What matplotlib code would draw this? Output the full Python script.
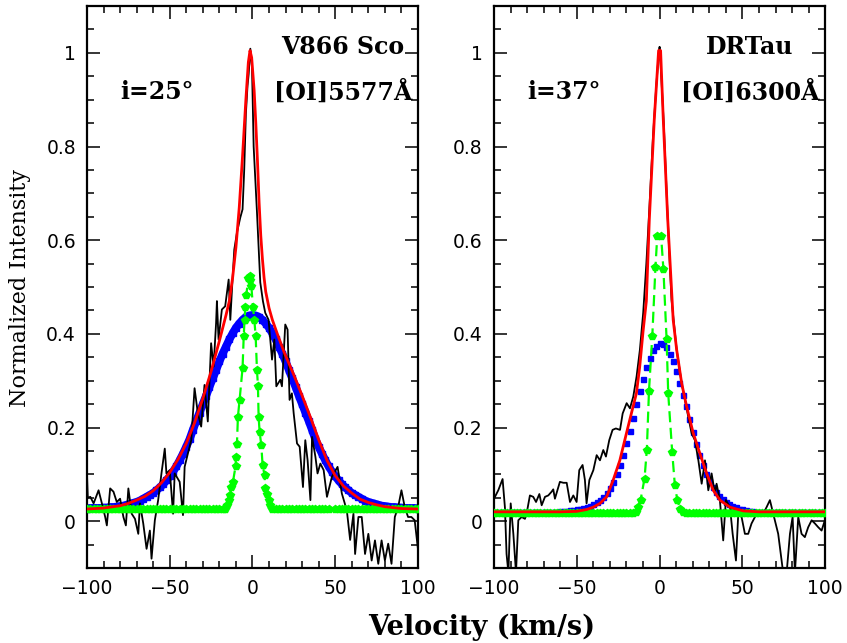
import matplotlib
matplotlib.use("Agg")
import matplotlib.pyplot as plt
from matplotlib.ticker import MultipleLocator, FuncFormatter

# ---------------- data: left panel (V866 Sco, [OI]5577) ----------------
vel_grid = [-100, -98, -96, -94, -92, -90, -88, -86, -84, -82, -80, -78, -76, -74, -72,
            -70, -68, -66, -64, -62, -60, -58, -56, -54, -52, -50, -48, -46, -44, -42,
            -40, -38, -36, -34, -32, -30, -28, -26, -24, -22, -20, -18, -16, -14, -12,
            -10, -8, -6, -4, -2, 0, 2, 4, 6, 8, 10, 12, 14, 16, 18, 20, 22, 24, 26, 28,
            30, 32, 34, 36, 38, 40, 42, 44, 46, 48, 50, 52, 54, 56, 58, 60, 62, 64, 66,
            68, 70, 72, 74, 76, 78, 80, 82, 84, 86, 88, 90, 92, 94, 96, 98, 100]

blue_left = [0.027, 0.028, 0.028, 0.028, 0.028, 0.029, 0.029, 0.030, 0.030, 0.031, 0.032,
             0.033, 0.035, 0.037, 0.039, 0.041, 0.044, 0.048, 0.052, 0.056, 0.060, 0.066,
             0.072, 0.079, 0.087, 0.096, 0.106, 0.117, 0.130, 0.144, 0.159, 0.175, 0.195,
             0.214, 0.232, 0.250, 0.268, 0.287, 0.305, 0.323, 0.341, 0.358, 0.373, 0.388,
             0.401, 0.413, 0.422, 0.430, 0.436, 0.439, 0.440, 0.439, 0.436, 0.430, 0.422,
             0.413, 0.401, 0.388, 0.373, 0.358, 0.341, 0.323, 0.305, 0.287, 0.268, 0.250,
             0.232, 0.214, 0.195, 0.175, 0.159, 0.144, 0.130, 0.117, 0.106, 0.096, 0.087,
             0.079, 0.072, 0.066, 0.060, 0.056, 0.052, 0.048, 0.044, 0.041, 0.039, 0.037,
             0.035, 0.033, 0.032, 0.031, 0.030, 0.030, 0.029, 0.029, 0.028, 0.028, 0.028,
             0.028, 0.027]

red_left_v = [-100, -90, -80, -75, -70, -65, -60, -55, -50, -45, -40, -35, -30, -25, -20,
              -16, -14, -12, -10, -8, -6, -4, -2.5, -1.5, -0.5, 1, 2, 3, 4, 5, 6, 7, 8, 10,
              12, 15, 19, 25, 30, 35, 40, 45, 50, 55, 60, 65, 70, 75, 80, 90, 100]
red_left_i = [0.026, 0.028, 0.033, 0.038, 0.045, 0.053, 0.065, 0.082, 0.104, 0.132, 0.166,
              0.21, 0.262, 0.32, 0.385, 0.44, 0.47, 0.52, 0.585, 0.67, 0.78, 0.90, 0.98,
              1.005, 0.99, 0.92, 0.85, 0.77, 0.68, 0.61, 0.56, 0.52, 0.49, 0.455, 0.43,
              0.40, 0.362, 0.312, 0.268, 0.222, 0.174, 0.13, 0.097, 0.075, 0.06, 0.047, 0.04,
              0.035, 0.031, 0.027, 0.026]

green_left_v = [-100, -98, -96, -94, -92, -90, -88, -86, -84, -82, -80, -78, -76, -74, -72,
                -70, -68, -66, -64, -62, -60, -58, -56, -54, -52, -50, -48, -46, -44, -42,
                -40, -38, -36, -34, -32, -30, -28, -26, -24, -22, -20, -18,
                -16.5, -15.5, -14.4, -13.4, -12.8, -11.8, -10.2, -10.0, -9.4, -8.8, -7.8,
                -6.0, -5.3, -4.8, -4.3, -3.7, -2.5, -1.8, -1.3, -0.7, 0.3, 1.1, 1.9, 2.7,
                3.3, 3.7, 4.3, 5.3, 6.1, 7.3, 7.7, 8.8, 9.7, 10.5, 12,
                14, 16, 18, 20, 22, 24, 26, 28, 30, 32, 34, 36, 38, 40, 42, 44, 46, 50,
                52, 54, 56, 58, 60, 62, 64, 66, 68, 70, 72, 74, 76, 78, 80, 82, 84, 86, 88,
                90, 92, 94, 96, 98, 100]
green_left_i = [0.025, 0.025, 0.025, 0.025, 0.025, 0.025, 0.025, 0.025, 0.025, 0.025, 0.025,
                0.025, 0.025, 0.025, 0.025, 0.025, 0.025, 0.025, 0.025, 0.025, 0.025, 0.025,
                0.025, 0.025, 0.025, 0.025, 0.025, 0.025, 0.025, 0.025, 0.025, 0.025, 0.025,
                0.025, 0.025, 0.025, 0.025, 0.025, 0.025, 0.025, 0.025, 0.025,
                0.027, 0.035, 0.045, 0.057, 0.073, 0.084, 0.118, 0.138, 0.165, 0.223, 0.259,
                0.327, 0.395, 0.43, 0.457, 0.484, 0.52, 0.523, 0.516, 0.502, 0.457, 0.43,
                0.396, 0.323, 0.289, 0.223, 0.191, 0.163, 0.12, 0.098, 0.07, 0.059, 0.045,
                0.035, 0.027,
                0.025, 0.025, 0.025, 0.025, 0.025, 0.025, 0.025, 0.025, 0.025, 0.025, 0.025,
                0.025, 0.025, 0.025, 0.025, 0.025, 0.025, 0.025, 0.025, 0.025, 0.025, 0.025,
                0.025, 0.025, 0.025, 0.025, 0.025, 0.025, 0.025, 0.025, 0.025, 0.025, 0.025,
                0.025, 0.025, 0.025, 0.025, 0.025, 0.025, 0.025, 0.025, 0.025, 0.025]

obs_left_v = [-100, -99.5, -98, -96, -93, -91, -89, -88, -86, -84, -82, -80, -78, -76.5,
              -75, -73, -71, -69, -68, -66, -64, -62, -61, -59, -57, -55, -53, -52, -50,
              -48, -47, -44, -42, -41, -39, -37, -35, -33, -31, -29, -27, -25, -23.5, -22,
              -21.5, -20.5, -18.5, -16.5, -14.4, -13.4, -12, -11, -9.4, -7.4, -6, -5, -4,
              -3, -2.3, -1.3, -0.3, 0.7, 2.7, 4.7, 6.3, 7.7, 9.7, 11.8, 13.2, 14.4, 16.8,
              17.8, 19.8, 21.2, 22.4, 23.8, 24.9, 26.9, 28.5, 30.5, 31.9, 33.3, 35, 36, 38,
              39.3, 41, 43, 45, 48, 51.4, 54, 57, 59, 61, 62, 64, 66, 68, 70, 72, 74, 76,
              78, 80, 82, 84, 86, 88, 90, 92, 94, 96, 98, 100]
obs_left_i = [0.10, 0.05, 0.052, 0.038, 0.066, 0.038, 0.009, -0.009, 0.07, 0.063, 0.041,
              0.048, 0.009, -0.009, 0.07, 0.016, 0.005, -0.027, 0.038, -0.005, -0.059,
              -0.02, -0.08, 0.002, 0.045, 0.102, 0.155, 0.102, 0.109, 0.016, 0.102, 0.084,
              0.013, 0.116, 0.145, 0.173, 0.284, 0.23, 0.202, 0.291, 0.213, 0.38, 0.33,
              0.423, 0.47, 0.388, 0.452, 0.459, 0.516, 0.43, 0.52, 0.58, 0.616, 0.648,
              0.666, 0.75, 0.87, 0.93, 0.955, 1.009, 0.97, 0.80, 0.66, 0.51, 0.47, 0.445,
              0.43, 0.345, 0.388, 0.288, 0.302, 0.288, 0.42, 0.409, 0.259, 0.273, 0.23,
              0.166, 0.159, 0.073, 0.173, 0.13, 0.045, 0.18, 0.138, 0.102, 0.123, 0.109,
              0.052, 0.095, 0.116, 0.059, 0.023, -0.04, 0.016, -0.07, 0.009, 0.009, -0.07,
              -0.027, -0.084, -0.041, -0.091, -0.041, -0.084, -0.048, -0.091, 0.009, 0.03,
              0.066, 0.03, 0.009, 0.009, 0.002, -0.06]

# ---------------- data: right panel (DR Tau, [OI]6300) ----------------
blue_right = [0.020, 0.020, 0.020, 0.020, 0.020, 0.020, 0.020, 0.020, 0.020, 0.020, 0.020,
              0.020, 0.020, 0.020, 0.020, 0.020, 0.020, 0.020, 0.020, 0.020, 0.021, 0.021,
              0.022, 0.023, 0.024, 0.025, 0.026, 0.028, 0.030, 0.033, 0.037, 0.041, 0.046,
              0.052, 0.060, 0.070, 0.083, 0.100, 0.120, 0.142, 0.167, 0.193, 0.221, 0.250,
              0.278, 0.304, 0.329, 0.349, 0.365, 0.375, 0.380, 0.378, 0.371, 0.358, 0.341,
              0.320, 0.296, 0.270, 0.245, 0.218, 0.190, 0.165, 0.142, 0.120, 0.100, 0.085,
              0.072, 0.062, 0.054, 0.047, 0.041, 0.037, 0.033, 0.030, 0.027, 0.025, 0.024,
              0.022, 0.021, 0.020, 0.020, 0.020, 0.020, 0.020, 0.020, 0.020, 0.020, 0.020,
              0.020, 0.020, 0.020, 0.020, 0.020, 0.020, 0.020, 0.020, 0.020, 0.020, 0.020,
              0.020, 0.020]

red_right_v = [-100, -60, -50, -44, -40, -36, -32, -28, -24, -20, -16, -14, -12, -10, -8,
               -6.2, -3.2, -0.6, 0.6, 2.2, 4.9, 8.2, 10.3, 13.3, 16.3, 20.3, 24.3, 28.4,
               32.4, 36.4, 42.4, 50.5, 60, 100]
red_right_i = [0.02, 0.02, 0.021, 0.025, 0.03, 0.038, 0.052, 0.088, 0.13, 0.188, 0.245,
               0.273, 0.33, 0.405, 0.47, 0.645, 0.859, 1.005, 1.005, 0.859, 0.645, 0.43,
               0.366, 0.295, 0.245, 0.188, 0.145, 0.102, 0.066, 0.045, 0.03, 0.022, 0.02,
               0.02]

green_right_v = [-100, -98, -96, -94, -92, -90, -88, -86, -84, -82, -80, -78, -76, -74, -72,
                 -70, -68, -66, -64, -62, -60, -58, -56, -54, -52, -50, -48, -46, -44, -42,
                 -40, -38, -36, -34, -32, -30, -28, -26, -24, -22, -20, -18, -16, -14,
                 -12.9, -11.5, -9.1, -7.7, -6.4, -4.4, -2.5, -1.4, 0.9, 2.3, 4.2, 5.2, 7.6,
                 9.2, 10.7, 12.3,
                 14, 16, 18, 20, 22, 24, 26, 28, 30, 32, 34, 36, 38, 40, 42, 44, 46, 48, 50,
                 52, 54, 56, 58, 60, 62, 64, 66, 68, 70, 72, 74, 76, 78, 80, 82, 84, 86, 88,
                 90, 92, 94, 96, 98, 100]
green_right_i = [0.017, 0.017, 0.017, 0.017, 0.017, 0.017, 0.017, 0.017, 0.017, 0.017,
                 0.017, 0.017, 0.017, 0.017, 0.017, 0.017, 0.017, 0.017, 0.017, 0.017,
                 0.017, 0.017, 0.017, 0.017, 0.017, 0.017, 0.017, 0.017, 0.017, 0.017,
                 0.017, 0.017, 0.017, 0.017, 0.017, 0.017, 0.017, 0.017, 0.017, 0.017,
                 0.017, 0.017, 0.017, 0.019,
                 0.031, 0.045, 0.091, 0.153, 0.279, 0.396, 0.543, 0.61, 0.609, 0.538, 0.39,
                 0.273, 0.148, 0.077, 0.045, 0.027,
                 0.019, 0.017, 0.017, 0.017, 0.017, 0.017, 0.017, 0.017, 0.017, 0.017,
                 0.017, 0.017, 0.017, 0.017, 0.017, 0.017, 0.017, 0.017, 0.017, 0.017,
                 0.017, 0.017, 0.017, 0.017, 0.017, 0.017, 0.017, 0.017, 0.017, 0.017,
                 0.017, 0.017, 0.017, 0.017, 0.017, 0.017, 0.017, 0.017, 0.017, 0.017,
                 0.017, 0.017, 0.017, 0.017]

obs_right_v = [-100.4, -97.4, -94.8, -93.4, -92.4, -91.3, -89.9, -88.3, -86.7, -85.3, -83.3,
               -81.3, -80.3, -78.3, -76.3, -74.6, -72.6, -71.2, -69.2, -67.2, -65.2, -64.2,
               -63.2, -60.2, -58.1, -56.1, -54.1, -52.1, -50.1, -48.5, -46.5, -45.1, -44.1,
               -42.4, -40, -38, -36, -34, -32.4, -30.4, -28.4, -26.4, -23.9, -22.3, -19.9,
               -17.9, -15.9, -13.9, -11.9, -9.9, -8, -6, -4, -2, -0.5, 0, 1, 2.5, 4.5, 6,
               7.2, 10.3, 13.3, 15.3, 17.3, 19.3, 21.3, 23.4, 25.4, 27.4, 29.4, 31.4, 33.4,
               34.4, 36.4, 38.4, 40, 42.5, 44.1, 46.1, 47.5, 49.5, 51.5, 53.5, 55.5, 58.6,
               62.6, 64.6, 66.6, 68.6, 71.6, 74.6, 76.7, 78.7, 80.3, 81.7, 83.7, 85.7, 87.7,
               89.7, 91.8, 93.8, 95.8, 97.8, 99.8]
obs_right_i = [0.045, 0.066, 0.09, 0.03, -0.07, -0.11, 0.038, -0.027, -0.11, 0.002, 0.009,
               0.005, 0.016, 0.055, 0.052, 0.041, 0.058, 0.034, 0.052, 0.055, 0.063, 0.068,
               0.048, 0.084, 0.082, 0.082, 0.041, 0.055, 0.041, 0.109, 0.12, 0.088, 0.038,
               0.088, 0.109, 0.141, 0.13, 0.152, 0.138, 0.173, 0.195, 0.198, 0.195, 0.23,
               0.252, 0.241, 0.266, 0.309, 0.366, 0.445, 0.55, 0.68, 0.82, 0.93, 1.0, 1.013,
               0.95, 0.85, 0.68, 0.56, 0.473, 0.366, 0.295, 0.259, 0.223, 0.188, 0.173, 0.13,
               0.08, 0.13, 0.066, 0.102, 0.059, 0.08, 0.045, -0.041, 0.045, 0.03, -0.027,
               -0.084, 0.016, 0.009, -0.027, -0.027, -0.005, 0.016, 0.016, 0.03, 0.045,
               0.016, -0.027, -0.11, -0.11, -0.027, 0.009, -0.11, 0.009, -0.027, -0.034,
               -0.013, 0.002, -0.005, -0.013, -0.02, 0.002]

inclinations = ["i=25°", "i=37°"]
objects = ["V866 Sco", "DRTau"]
lines = ["[OI]5577Å", "[OI]6300Å"]

# ---------------- figure ----------------
fig = plt.figure(figsize=(8.47, 6.43), dpi=100)
ax_l = fig.add_axes([0.1027, 0.1166, 0.3908, 0.874])
ax_r = fig.add_axes([0.5832, 0.1166, 0.3911, 0.874])

GREEN = "#00ff00"
BLUE = "#0000ff"

def style(ax):
    ax.set_xlim(-100, 100)
    ax.set_ylim(-0.1, 1.1)
    ax.xaxis.set_major_locator(MultipleLocator(50))
    ax.xaxis.set_minor_locator(MultipleLocator(10))
    ax.yaxis.set_major_locator(MultipleLocator(0.2))
    ax.yaxis.set_minor_locator(MultipleLocator(0.05))
    ax.tick_params(which="both", direction="in", top=True, right=True,
                   width=1.1, colors="black")
    ax.tick_params(which="major", length=9.5, labelsize=13.5, pad=8)
    ax.tick_params(which="minor", length=5)
    ax.xaxis.set_major_formatter(FuncFormatter(lambda v, p: ("%g" % v).replace("-", "\u2212")))
    ax.yaxis.set_major_formatter(FuncFormatter(lambda v, p: "%g" % round(v, 2)))
    for s in ax.spines.values():
        s.set_linewidth(1.6)

panels = [
    (ax_l, obs_left_v, obs_left_i, blue_left, green_left_v, green_left_i, red_left_v, red_left_i, 4.8, True),
    (ax_r, obs_right_v, obs_right_i, blue_right, green_right_v, green_right_i, red_right_v, red_right_i, 3.6, False),
]

for k, (ax, ov, oi, bi, gv, gi, rv, ri, bms, band) in enumerate(panels):
    style(ax)
    if band:
        ax.plot(vel_grid, bi, ls="-", lw=5.8, color=BLUE, solid_capstyle="butt", zorder=2)
    ax.plot(vel_grid, bi, ls="none", marker="s", ms=bms, color=BLUE, mec=BLUE, zorder=2)
    ax.plot(ov, oi, color="black", lw=1.3, zorder=3)
    ax.plot(gv, gi, color=GREEN, lw=1.6, ls=(0, (5, 2.5)), marker="p", ms=5.5,
            mec=GREEN, mfc=GREEN, zorder=4)
    ax.plot(rv, ri, color="#ff0000", lw=2.0, zorder=5)
    ax.text(54.5, 0.998, objects[k], ha="center", va="baseline", fontsize=17,
            family="DejaVu Serif", fontweight="bold")
    ax.text(54.5, 0.901, lines[k], ha="center", va="baseline", fontsize=17,
            family="DejaVu Serif", fontweight="bold")
    ax.text(-57.7, 0.901, inclinations[k], ha="center", va="baseline", fontsize=17,
            family="DejaVu Serif", fontweight="bold")

fig.text(0.0236, 1 - 288 / 643, "Normalized Intensity", rotation=90, ha="center",
         va="center", fontsize=16, family="DejaVu Serif")
fig.text(482 / 847, 1 - 627 / 643, "Velocity (km/s)", ha="center", va="center",
         fontsize=19.5, family="DejaVu Serif", fontweight="bold")

fig.savefig("out.png", dpi=100)
